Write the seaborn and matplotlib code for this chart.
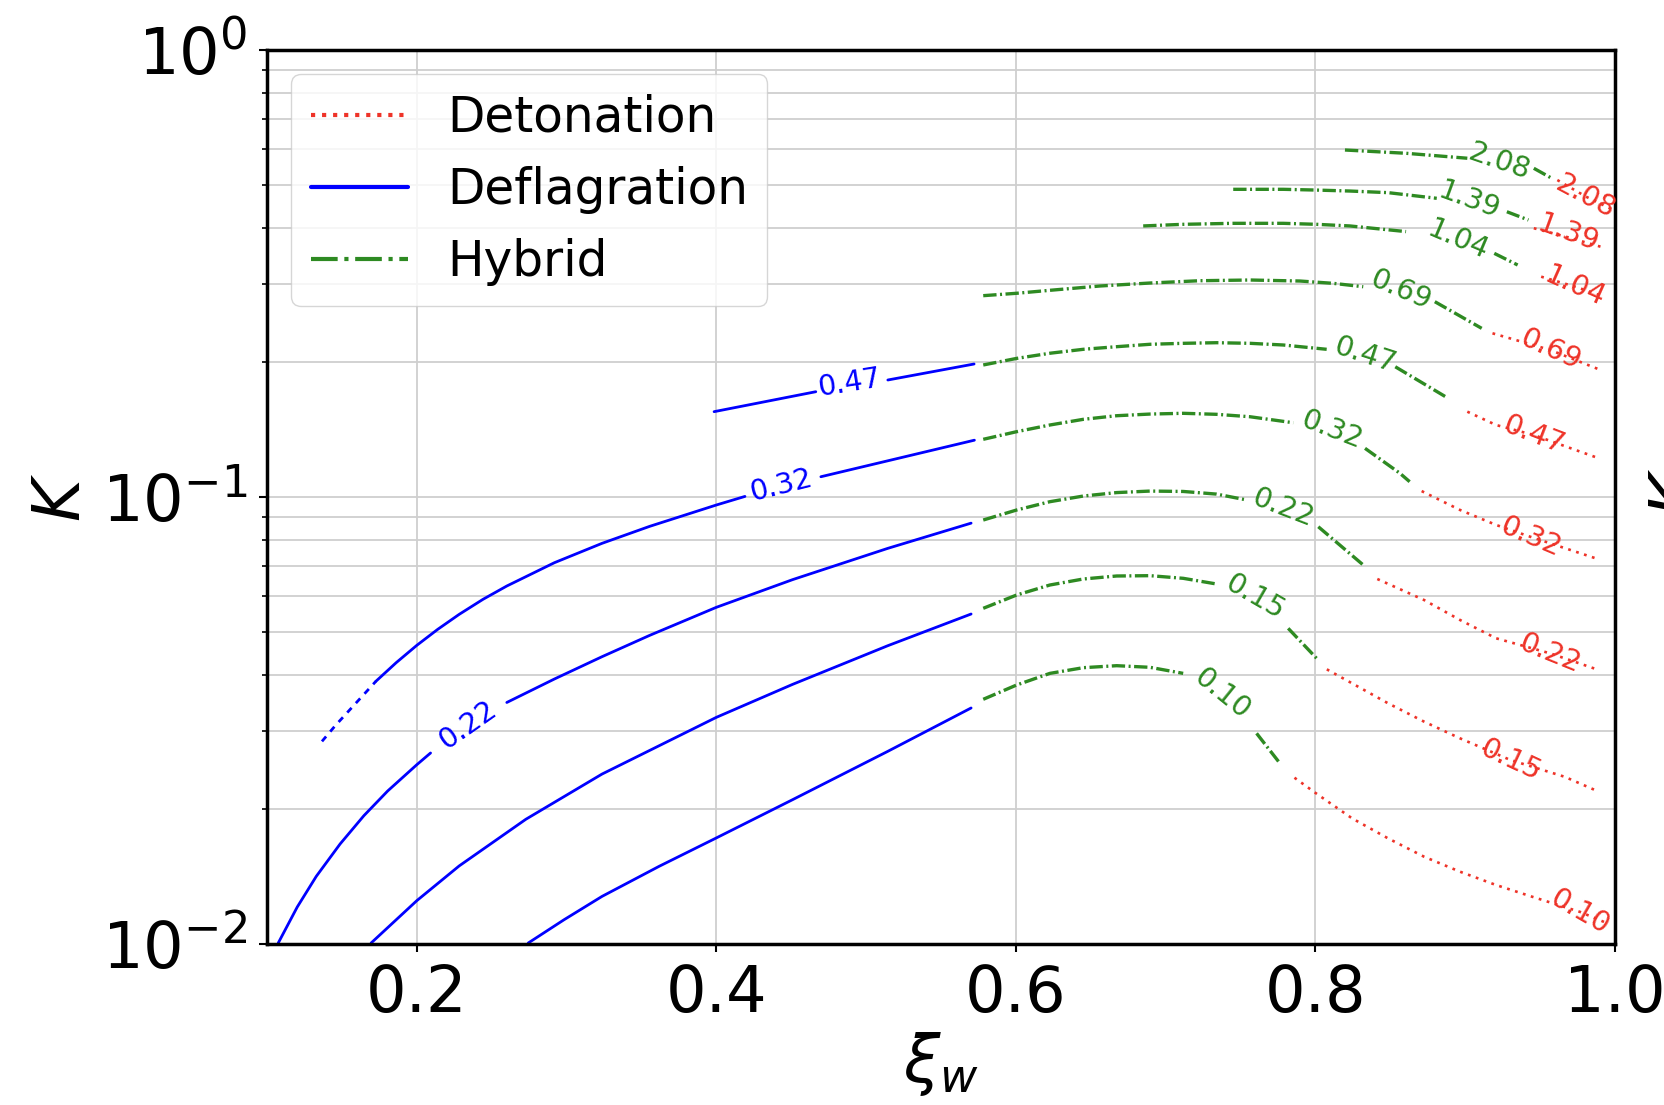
import numpy as np
import pandas as pd
import matplotlib
matplotlib.use('Agg')
import matplotlib.pyplot as plt
import seaborn as sns
from matplotlib.lines import Line2D
from matplotlib.ticker import NullFormatter

nan = np.nan

# Deflagration branch (xi_w < c_s), one list per alpha, nan = gap left for the label
defl_alpha = ['0.10', '0.15', '0.22', '0.32', '0.47']
defl_xi = [
    [0.2744, 0.2983, 0.3237, 0.3618, 0.40, 0.4509, 0.5145, 0.5701],
    [0.1695, 0.20, 0.2283, 0.2728, 0.3237, 0.40, 0.4509, 0.5145, 0.5701],
    [0.1075, 0.1202, 0.1329, 0.1488, 0.1647, 0.1806, 0.20, 0.2092, nan,
     0.2601, 0.2919, 0.3237, 0.3555, 0.40, 0.4509, 0.5145, 0.5701],
    [0.1727, 0.1863, 0.20, 0.2140, 0.2283, 0.2442, 0.2601, 0.2919, 0.3237, 0.3555, 0.40, 0.4191, nan,
     0.4698, 0.5723],
    [0.3985, 0.4664, nan, 0.5145, 0.5721],
]
defl_K = [
    [0.01005, 0.01133, 0.01278, 0.01492, 0.01727, 0.02103, 0.02698, 0.03373],
    [0.01005, 0.0125, 0.01495, 0.01901, 0.0240, 0.03214, 0.03809, 0.04649, 0.05473],
    [0.01005, 0.0121, 0.01417, 0.01674, 0.01937, 0.0220, 0.02518, 0.02675, nan,
     0.0347, 0.03916, 0.04393, 0.04903, 0.05665, 0.06533, 0.07676, 0.0874],
    [0.0387, 0.04261, 0.04657, 0.05058, 0.05463, 0.05903, 0.06322, 0.07129, 0.07877, 0.08597, 0.09596, 0.1003, nan,
     0.1110, 0.1340],
    [0.1552, 0.1720, nan, 0.1827, 0.1984],
]
# broken start of the alpha = 0.32 deflagration line
defl_tail_xi = [0.1367, 0.1456, 0.1727]
defl_tail_K = [0.0284, 0.0308, 0.0387]

# Hybrid branch
hyb_alpha = ['0.10', '0.15', '0.22', '0.32', '0.47', '0.69', '1.04', '1.39', '2.08']
hyb_xi = [
    [0.5782, 0.6005, 0.6227, 0.6450, 0.6673, 0.6895, 0.7117, nan, 0.7607, 0.7763],
    [0.5782, 0.6005, 0.6227, 0.6450, 0.6673, 0.6895, 0.7117, 0.7340, nan, 0.7818, 0.8008],
    [0.5782, 0.6005, 0.6227, 0.6450, 0.6673, 0.6895, 0.7117, 0.7340, 0.7540, nan, 0.8019, 0.8319],
    [0.5782, 0.6005, 0.6227, 0.6450, 0.6673, 0.6895, 0.7117, 0.7340, 0.7563, 0.7852, nan, 0.8331, 0.8564, 0.8629],
    [0.5782, 0.6005, 0.6227, 0.6450, 0.6673, 0.6895, 0.7117, 0.7340, 0.7563, 0.7785, 0.8075, nan, 0.8533, 0.8869],
    [0.5782, 0.6005, 0.6227, 0.6561, 0.6895, 0.7229, 0.7563, 0.7897, 0.8119, 0.8319, nan, 0.8797, 0.9110],
    [0.6850, 0.7117, 0.7451, 0.7785, 0.8008, 0.8230, 0.8605, nan, 0.9194, 0.9350],
    [0.7451, 0.7785, 0.8008, 0.8230, 0.8485, 0.8810, nan, 0.9278, 0.9422],
    [0.8197, 0.8605, 0.9014, nan, 0.9458, 0.9578],
]
hyb_K = [
    [0.03527, 0.03797, 0.04031, 0.04151, 0.04194, 0.04159, 0.04031, nan, 0.0296, 0.02536],
    [0.05636, 0.06036, 0.06355, 0.06555, 0.06657, 0.06668, 0.06578, 0.06388, nan, 0.05084, 0.04355],
    [0.08882, 0.09352, 0.09761, 0.1005, 0.1023, 0.1031, 0.1029, 0.1015, 0.0985, nan, 0.0858, 0.07046],
    [0.1346, 0.1400, 0.1449, 0.1492, 0.1520, 0.1533, 0.1539, 0.1531, 0.1512, 0.1466, nan, 0.1285, 0.1130, 0.1082],
    [0.1974, 0.2042, 0.2097, 0.2140, 0.2169, 0.2196, 0.2207, 0.2214, 0.2207, 0.2188, 0.2140, nan, 0.1956, 0.1676],
    [0.2821, 0.2856, 0.2900, 0.2965, 0.3011, 0.3047, 0.3058, 0.3042, 0.3006, 0.2954, nan, 0.2735, 0.2384],
    [0.4040, 0.4074, 0.4095, 0.4095, 0.4074, 0.4040, 0.3924, nan, 0.3508, 0.3304],
    [0.4879, 0.4879, 0.4860, 0.4836, 0.4796, 0.4658, nan, 0.4347, 0.4166],
    [0.5974, 0.5874, 0.5726, nan, 0.5437, 0.5164],
]

# Detonation branch
det_alpha = ['0.10', '0.15', '0.22', '0.32', '0.47', '0.69', '1.04', '1.39', '2.08']
det_xi = [
    [0.7860, 0.8004, 0.8245, 0.8485, 0.8725, 0.8966, 0.9206, 0.9446, 0.9766, 0.9950],
    [0.8076, 0.8245, 0.8485, 0.8725, 0.8966, 0.9302, 0.9663, 0.9891],
    [0.8413, 0.8725, 0.8966, 0.9206, 0.9567, 0.9891],
    [0.8709, 0.8966, 0.9206, 0.9434, 0.9891],
    [0.9014, 0.9206, 0.9458, 0.9891],
    [0.9182, 0.9567, 0.9903],
    [0.9507, 0.9735, 0.9927],
    [0.9458, 0.9687, 0.9903],
    [0.9615, 0.9807, 0.9990],
]
det_K = [
    [0.02355, 0.02173, 0.0191, 0.01723, 0.01568, 0.01451, 0.01355, 0.01276, 0.0118, 0.01112],
    [0.04116, 0.03829, 0.03455, 0.03144, 0.02884, 0.0258, 0.02367, 0.02192],
    [0.06555, 0.05883, 0.05306, 0.0483, 0.04469, 0.04102],
    [0.1031, 0.09352, 0.0866, 0.08149, 0.07255],
    [0.1552, 0.1449, 0.1376, 0.1221],
    [0.2324, 0.2133, 0.1924],
    [0.3111, 0.2954, 0.2807],
    [0.3993, 0.3810, 0.3631],
    [0.5118, 0.4697, 0.4385],
]


def to_long(xi_lists, k_lists):
    rows = []
    seg = 0
    for xs, ks in zip(xi_lists, k_lists):
        for x, k in zip(xs, ks):
            if np.isnan(x):
                seg += 1
                continue
            rows.append((seg, x, k))
        seg += 1
    return pd.DataFrame(rows, columns=['seg', 'xi', 'K'])


red = '#ee3328'
blue = '#0000ff'
green = '#2e8a22'

sns.set_style('whitegrid')
plt.rcParams['font.family'] = ['DejaVu Sans']
plt.rcParams['text.color'] = 'black'
plt.rcParams['axes.labelcolor'] = 'black'

fig = plt.figure(figsize=(16.65, 11.05), dpi=100)
ax = fig.add_axes([267 / 1665, 1 - 944 / 1105, 1348 / 1665, 894 / 1105])
ax.set_yscale('log')

styles = [
    (to_long(defl_xi, defl_K), blue, 2.0, '-'),
    (to_long(hyb_xi, hyb_K), green, 2.4, (0, (4.0, 1.05, 0.6, 1.05))),
    (to_long(det_xi, det_K), red, 1.9, (0, (1.05, 2.1))),
]
for df, c, lw, ls in styles:
    sns.lineplot(data=df, x='xi', y='K', units='seg', estimator=None, sort=False,
                 color=c, lw=lw, linestyle=ls, ax=ax, legend=False)
sns.lineplot(x=defl_tail_xi, y=defl_tail_K, estimator=None, sort=False,
             color=blue, lw=2.0, linestyle=(0, (2.3, 2.3)), ax=ax, legend=False)

# contour labels: (text, xi, K, rotation)
defl_lab = [('0.47', 0.4888, 0.1802, 9), ('0.32', 0.443, 0.1063, 14), ('0.22', 0.234, 0.0308, 35)]
hyb_lab = [('0.10', 0.7374, 0.03637, -39), ('0.15', 0.7596, 0.05984, -30),
           ('0.22', 0.7785, 0.0943, -21), ('0.32', 0.8108, 0.1412, -21),
           ('0.47', 0.8331, 0.2078, -18), ('0.69', 0.8569, 0.2904, -23),
           ('1.04', 0.8954, 0.3758, -23), ('1.39', 0.9026, 0.4619, -20),
           ('2.08', 0.9230, 0.5627, -19)]
det_lab = [('0.10', 0.9766, 0.0118, -30), ('0.15', 0.9302, 0.0258, -25),
           ('0.22', 0.9567, 0.04469, -22), ('0.32', 0.9434, 0.08149, -23),
           ('0.47', 0.9458, 0.1376, -21), ('0.69', 0.9567, 0.2133, -24),
           ('1.04', 0.9735, 0.2954, -24), ('1.39', 0.9687, 0.3891, -20),
           ('2.08', 0.9807, 0.4697, -28)]
for labs, c in [(defl_lab, blue), (hyb_lab, green), (det_lab, red)]:
    for s, x, y, r in labs:
        ax.text(x, y, s, color=c, fontsize=20.5, rotation=r, rotation_mode='anchor',
                ha='center', va='center')

ax.set_xlim(0.1, 1.0)
ax.set_ylim(0.01, 1.0)
ax.set_xticks([0.2, 0.4, 0.6, 0.8, 1.0])
ax.yaxis.set_minor_formatter(NullFormatter())

ax.grid(which='major', color='#cfcfcf', lw=1.3)
ax.grid(which='minor', axis='y', color='#cfcfcf', lw=1.3)
for sp in ax.spines.values():
    sp.set_color('black')
    sp.set_linewidth(2.5)
ax.tick_params(which='major', length=6, width=1.5, color='black', labelcolor='black',
               labelsize=46, pad=8, left=True, bottom=True, direction='out')
ax.tick_params(which='minor', length=3.5, width=1.2, color='black', left=True)

ax.set_xlabel(r'$\xi_w$', fontsize=47, labelpad=3)
ax.set_ylabel(r'$K$', fontsize=47, labelpad=6)
fig.text(1647 / 1665, 1 - 492 / 1105, r'$K$', fontsize=47, rotation=90,
         ha='left', va='center')

handles = [Line2D([], [], color=red, lw=3, linestyle=':'),
           Line2D([], [], color=blue, lw=3, linestyle='-'),
           Line2D([], [], color=green, lw=3, linestyle='-.')]
ax.legend(handles, ['Detonation', 'Deflagration', 'Hybrid'], loc='upper left',
          fontsize=35, frameon=True, framealpha=0.8, edgecolor='#cccccc')

fig.savefig('out.png', dpi=100)
